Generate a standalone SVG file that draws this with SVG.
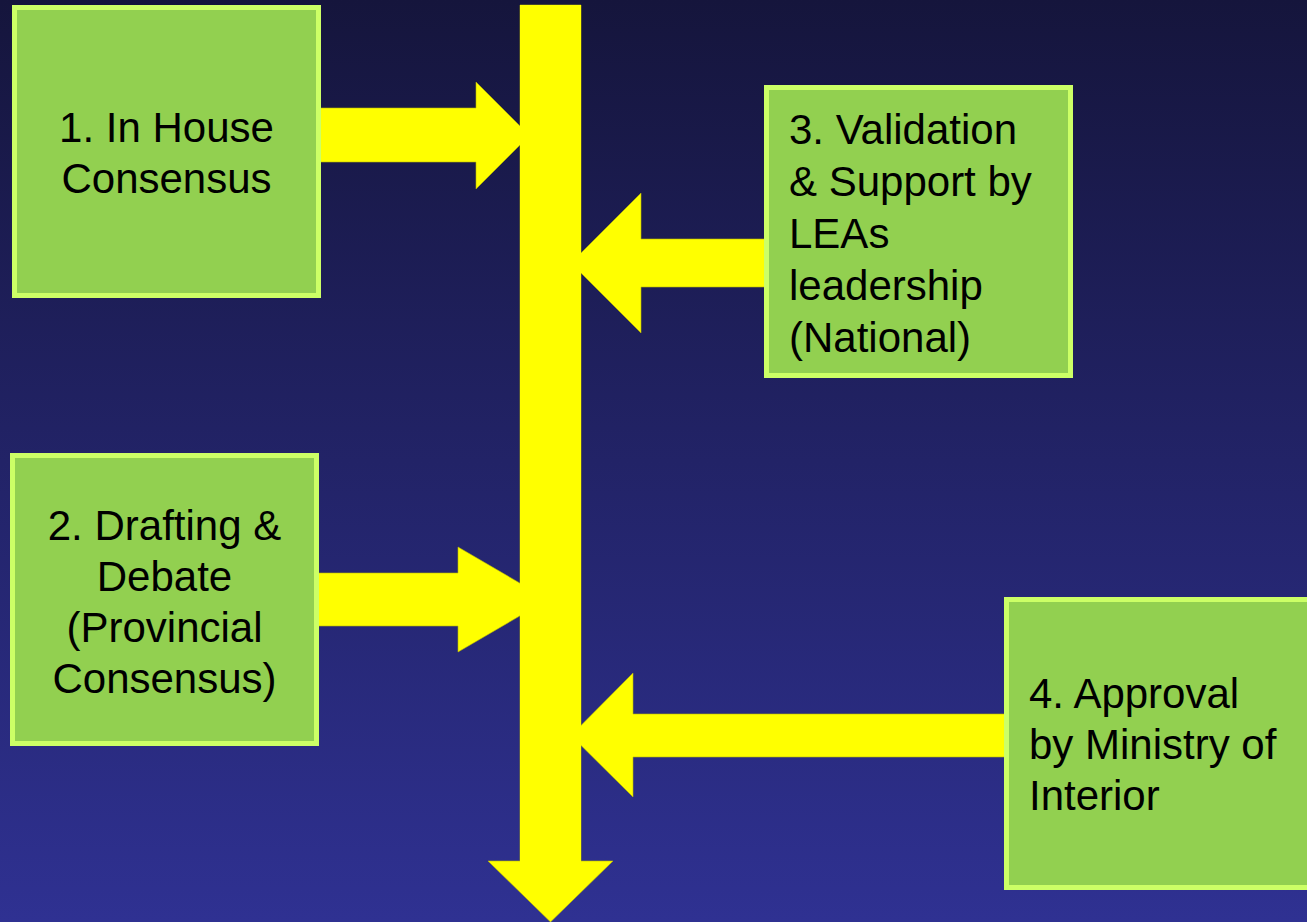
<svg xmlns="http://www.w3.org/2000/svg" width="1307" height="922" viewBox="0 0 1307 922">
<defs>
<linearGradient id="bg" x1="0" y1="0" x2="0" y2="1">
<stop offset="0" stop-color="#15153c"/>
<stop offset="1" stop-color="#2f3192"/>
</linearGradient>
</defs>
<style>
.box{fill:#92d050;stroke:#ccff66;stroke-width:5}
.arr{fill:#ffff00;stroke:#b8b800;stroke-width:0.6}
.t{font-family:"Liberation Sans",Arial,sans-serif;font-size:42px;fill:#000}
.c{text-anchor:middle}
</style>
<rect x="0" y="0" width="1307" height="922" fill="url(#bg)"/>
<g id="connectors">
<polygon class="arr" points="520,5 581,5 581,861 613,861 550.5,922 488,861 520,861"/>
<polygon class="arr" points="316,108 476,108 476,82 529.5,135.5 476,189 476,162 316,162"/>
<polygon class="arr" points="313,573 458,573 458,547 548,599.5 458,652 458,626 313,626"/>
<polygon class="arr" points="766,239 641,239 641,193 571,263 641,333 641,287 766,287"/>
<polygon class="arr" points="1006,714 633,714 633,673 571,735.5 633,797 633,757 1006,757"/>
<rect x="520" y="5" width="61" height="856" fill="#ffff00"/>
</g>
<g id="node1">
<rect class="box" x="14.5" y="7.5" width="304" height="288"/>
<text class="t c" x="166.5" y="142">1. In House</text>
<text class="t c" x="166.5" y="193">Consensus</text>
</g>
<g id="node2">
<rect class="box" x="12.5" y="455.5" width="304" height="288"/>
<text class="t c" x="164.5" y="540">2. Drafting &amp;</text>
<text class="t c" x="164.5" y="591">Debate</text>
<text class="t c" x="164.5" y="642">(Provincial</text>
<text class="t c" x="164.5" y="693">Consensus)</text>
</g>
<g id="node3">
<rect class="box" x="766.5" y="87.5" width="304" height="288"/>
<text class="t" x="789" y="144">3. Validation</text>
<text class="t" x="789" y="196">&amp; Support by</text>
<text class="t" x="789" y="248">LEAs</text>
<text class="t" x="789" y="300">leadership</text>
<text class="t" x="789" y="352">(National)</text>
</g>
<g id="node4">
<rect class="box" x="1006.5" y="599.5" width="304" height="288"/>
<text class="t" x="1029" y="708">4. Approval</text>
<text class="t" x="1029" y="759">by Ministry of</text>
<text class="t" x="1029" y="810">Interior</text>
</g>
</svg>
